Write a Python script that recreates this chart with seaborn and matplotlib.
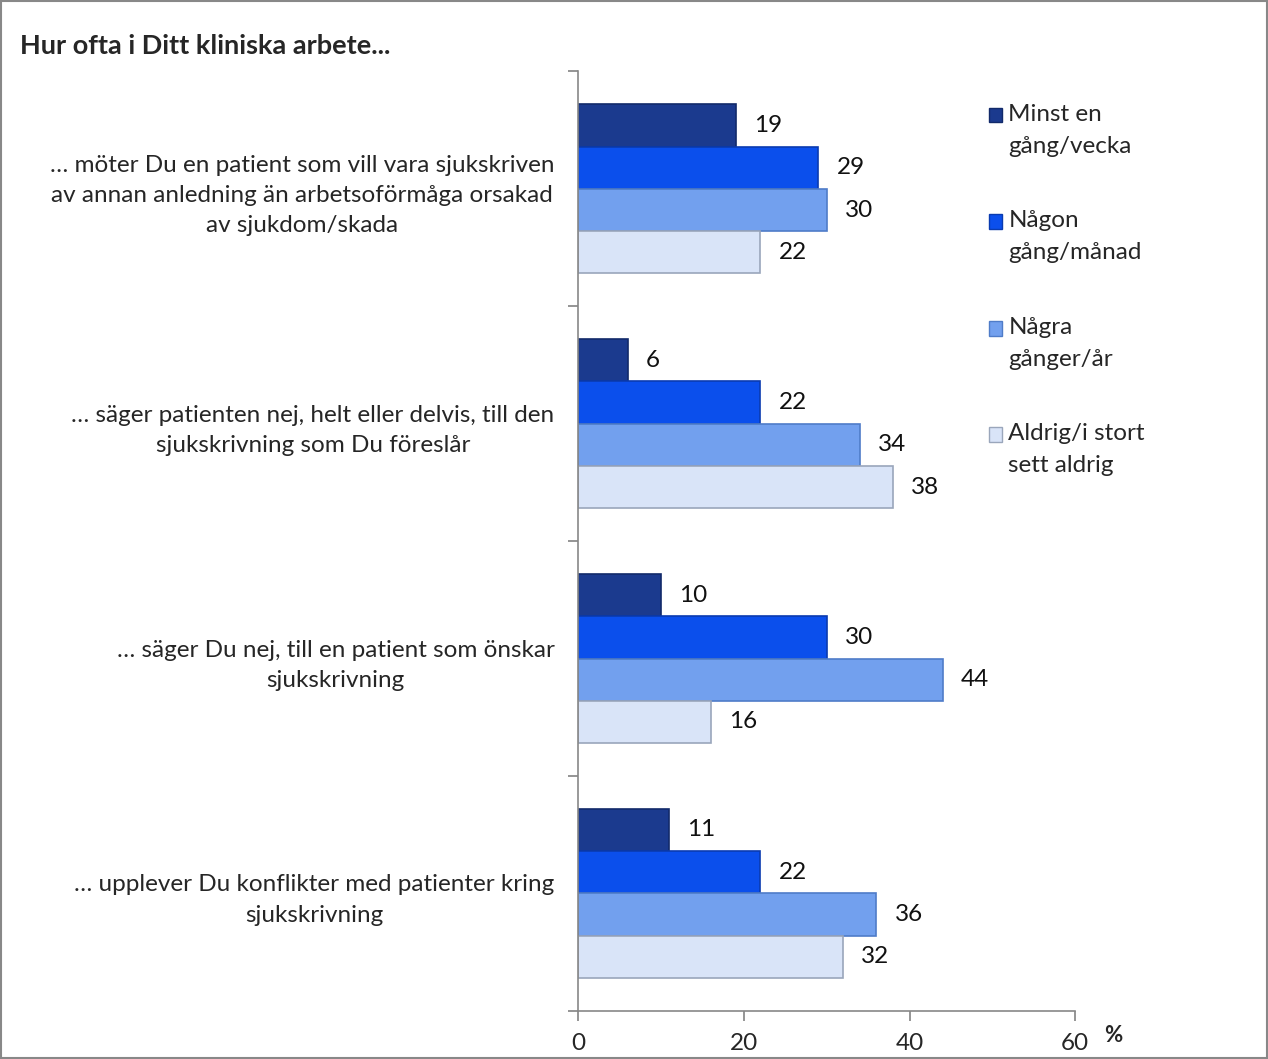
import numpy as np
import pandas as pd
import matplotlib
matplotlib.use("Agg")
import matplotlib.pyplot as plt
import seaborn as sns
from matplotlib.patches import Rectangle
from matplotlib.legend_handler import HandlerPatch

categories = [
    "… möter Du en patient som vill vara sjukskriven\nav annan anledning än arbetsoförmåga orsakad\nav sjukdom/skada",
    "… säger patienten nej, helt eller delvis, till den\nsjukskrivning som Du föreslår",
    "… säger Du nej, till en patient som önskar\nsjukskrivning",
    "… upplever Du konflikter med patienter kring\nsjukskrivning",
]
series = ["Minst en\ngång/vecka", "Någon\ngång/månad", "Några\ngånger/år", "Aldrig/i stort\nsett aldrig"]
minst_en_gang_vecka = [19, 6, 10, 11]
nagon_gang_manad = [29, 22, 30, 22]
nagra_ganger_ar = [30, 34, 44, 36]
aldrig = [22, 38, 16, 32]
x_ticks = [0, 20, 40, 60]

colors = ["#1b3a8e", "#0b4fec", "#72a0ee", "#d9e4f8"]
edges = ["#122a6a", "#0a3bb0", "#4f7cc8", "#9aa6bb"]

values = [minst_en_gang_vecka, nagon_gang_manad, nagra_ganger_ar, aldrig]
rows = []
for s, vals in zip(series, values):
    for c, v in zip(categories, vals):
        rows.append({"cat": c, "series": s, "value": v})
df = pd.DataFrame(rows)

sns.set_theme(style="white")
plt.rcParams["font.family"] = ["Lato", "DejaVu Sans"]

FS = 17.5
fig = plt.figure(figsize=(12.68, 10.59), dpi=100)
ax = fig.add_axes([0.456, 0.0455, 0.392, 0.887])

sns.barplot(data=df, y="cat", x="value", hue="series", orient="h",
            palette=colors, hue_order=series, order=categories,
            width=0.72, ax=ax, legend=False, saturation=1)

for i, cont in enumerate(ax.containers):
    for p in cont.patches:
        p.set_edgecolor(edges[i])
        p.set_linewidth(1.2)
    ax.bar_label(cont, labels=[str(v) for v in values[i]], padding=13, fontsize=FS, color="#111111")

ax.set_xlim(0, 60)
ax.set_ylim(3.5, -0.5)
ax.set_xticks(x_ticks)
ax.set_xticklabels([str(t) for t in x_ticks], fontsize=FS)
ax.set_yticks([-0.5, 0.5, 1.5, 2.5, 3.5])
ax.set_yticklabels([])
ax.set_yticks(range(len(categories)), minor=True)
ax.set_yticklabels(categories, minor=True, fontsize=FS, multialignment="center", linespacing=1.55)
ax.tick_params(axis="y", which="minor", length=0, pad=17)
ax.tick_params(axis="y", which="major", length=7, color="#888888", direction="out", left=True)
ax.tick_params(axis="x", length=7, color="#888888", direction="out", bottom=True, pad=9)
ax.set_xlabel("")
ax.set_ylabel("")
for s in ["top", "right"]:
    ax.spines[s].set_visible(False)
for s in ["left", "bottom"]:
    ax.spines[s].set_color("#888888")
    ax.spines[s].set_linewidth(1.2)


def top_square(legend, orig_handle, xdescent, ydescent, width, height, fontsize):
    shift = 0.62 * fontsize
    return Rectangle((-xdescent, -ydescent + shift), width, height)


handles = [Rectangle((0, 0), 1, 1, facecolor=c, edgecolor=e) for c, e in zip(colors, edges)]
leg = fig.legend(handles, series, loc="upper left", bbox_to_anchor=(0.780, 0.902),
                 frameon=False, fontsize=FS, handlelength=0.55, handleheight=0.55,
                 handletextpad=0.25, labelspacing=2.2, borderpad=0, borderaxespad=0,
                 handler_map={Rectangle: HandlerPatch(patch_func=top_square)})
for t in leg.get_texts():
    t.set_linespacing(1.65)

fig.text(0.016, 0.957, "Hur ofta i Ditt kliniska arbete...", fontsize=19.5, fontweight="bold",
         ha="left", va="center")
fig.text(0.878, 0.022, "%", fontsize=16, fontweight="bold", ha="center", va="center")

fig.add_artist(Rectangle((0.001, 0.001), 0.998, 0.998, transform=fig.transFigure,
                         fill=False, edgecolor="#888888", linewidth=1.5))

fig.savefig("out.png", dpi=100)
